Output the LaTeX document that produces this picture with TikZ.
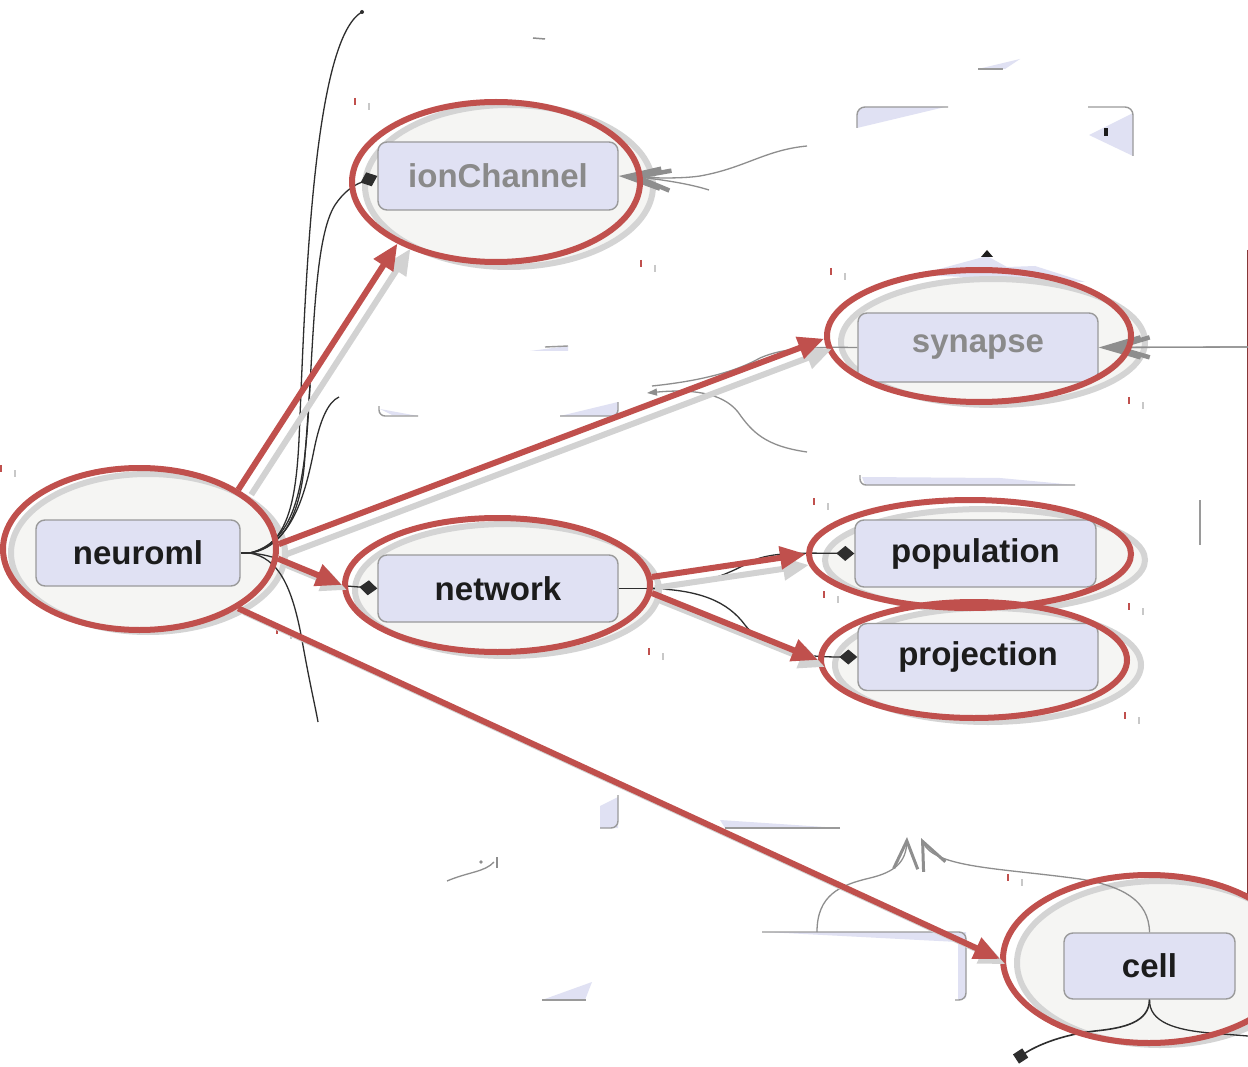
\documentclass[tikz,border=0pt]{standalone}
\usepackage{fontspec}
\setmainfont{Liberation Sans}
\usetikzlibrary{arrows.meta,shapes.geometric}

\definecolor{annot}{HTML}{C0504D}
\definecolor{dropgrey}{HTML}{D2D2D2}
\definecolor{bubble}{HTML}{F5F5F3}
\definecolor{ring}{HTML}{D4D4D4}
\definecolor{lav}{HTML}{E0E1F3}
\definecolor{boxline}{HTML}{9A9A9A}
\definecolor{ink}{HTML}{1C1C1C}
\definecolor{dim}{HTML}{8A8A8A}
\definecolor{wire}{HTML}{2E2E2E}
\definecolor{softwire}{HTML}{8E8E8E}
\definecolor{tickgrey}{HTML}{C8C8C8}

\begin{document}
\begin{tikzpicture}[x=1pt,y=-1pt,
  elem/.style={draw=boxline, line width=1.4pt, fill=lav, rounded corners=9pt,
    inner sep=0pt, font=\fontsize{33}{40}\selectfont\bfseries, text=ink},
  faded/.style={text=dim},
  ringed/.style={draw=ring, line width=6pt, fill=bubble},
  halo/.style={ellipse, draw=annot, line width=6pt, inner sep=0pt},
  callout/.style={draw=annot, line width=6pt, -{Triangle[length=26pt,width=22pt]}},
  callshadow/.style={draw=dropgrey, line width=6pt, -{Triangle[length=26pt,width=22pt]}},
  wirestyle/.style={draw=wire, line width=1.3pt},
  partof/.style={wirestyle, -{Diamond[length=18pt,width=15pt]}},
  softline/.style={draw=softwire, line width=1.3pt},
  openhead/.style={softline, -{Straight Barb[length=34pt,width=20pt,line width=4.5pt]}},
  uphead/.style={softline, -{Straight Barb[length=28pt,width=24pt,line width=3pt]}},
  edge/.style={draw=boxline, line width=1.4pt},
]
\fill[white] (0,0) rectangle (1248,1067);
\useasboundingbox (0,0) rectangle (1248,1067);

% ---- cut-away pieces of the surrounding elements ----
\fill[lav] (857,128) -- (857,112) -- (863,107) -- (945,107) -- cycle;
\draw[edge, rounded corners=8pt] (857,128) -- (857,107) -- (948,107);
\fill[lav] (1089,135) -- (1133,113) -- (1133,156) -- cycle;
\draw[edge, rounded corners=8pt] (1088,107) -- (1133,107) -- (1133,156);
\fill[ink] (1104,128) rectangle (1108,136);
\fill[lav] (978,69) -- (1020,59) -- (1005,69) -- cycle;
\draw[edge] (978,69) -- (1003,69);
\draw[softline, line width=1.5pt] (533,38) -- (545,39);
\fill[lav] (530,351) -- (568,346) -- (568,351) -- cycle;
\draw[edge] (545,347) -- (568,346);
\fill[lav] (380,409) -- (392,415) -- (418,416) -- cycle;
\draw[edge, rounded corners=6pt] (379,406) -- (379,416) -- (418,416);
\fill[lav] (560,416) -- (618,402) -- (618,416) -- cycle;
\draw[edge, rounded corners=6pt] (560,416) -- (618,416) -- (618,402);
\fill[lav] (917,275) -- (987,256) -- (1007,267) -- (1035,266) -- (1085,282) -- cycle;
\fill[ink] (981,257) -- (987,250) -- (993,257) -- cycle;
\fill[lav] (862,477) -- (1000,478) -- (1075,485) -- (865,485) -- cycle;
\draw[edge, rounded corners=6pt] (860,475) -- (860,485) -- (1075,485);
\draw[edge] (1200,500) -- (1200,545);
\fill[lav] (600,806) -- (618,797) -- (618,828) -- (600,828) -- cycle;
\draw[edge, rounded corners=7pt] (618,795) -- (618,828) -- (600,828);
\fill[lav] (720,820) -- (840,828) -- (725,828) -- cycle;
\draw[edge] (725,828) -- (840,828);
\draw[softline] (447,881) .. controls (468,872) and (485,872) .. (494,862);
\draw[softline, line width=2pt] (497,857) -- (497,868);
\fill[softwire] (481,862) circle (1.8pt);
\fill[lav] (542,1000) -- (592,982) -- (585,1000) -- cycle;
\draw[edge] (542,1000) -- (586,1000);
\fill[lav] (765,932) -- (966,932) -- (966,998) -- (958,1000) -- (958,942) -- cycle;
\draw[edge, rounded corners=7pt] (762,932) -- (966,932) -- (966,1000) -- (955,1000);
\draw[annot!70!black, line width=1pt] (1247,250) -- (1247,945);

% small tick pairs
\foreach \tx/\ty in {354/98, 640/260, 830/268, 1128/397, 813/498, 823/591,
                     1128/603, 1124/712, 0/465, 276/627, 648/648, 1007/874} {
  \draw[annot, line width=1.6pt] (\tx+1,\ty) -- ++(0,7);
  \draw[tickgrey, line width=1.4pt] (\tx+15,\ty+5) -- ++(0,7);
}

% ---- element bubbles ----
\foreach \cx/\cy/\rx/\ry in {148/553/137/79, 509/186/144/81, 507/590/152/66,
    993/342/152/63, 985/560/160/51, 988/665/153/57, 1160/963/143/82}
  \draw[ringed] (\cx,\cy) ellipse [x radius=\rx pt, y radius=\ry pt];

% ---- elements ----
\node[elem, minimum width=204pt, minimum height=66pt] (neuroml) at (138,553) {neuroml};
\node[elem, faded, minimum width=240pt, minimum height=68pt] (ionChannel) at (498,176) {ionChannel};
\node[elem, faded, minimum width=240pt, minimum height=69pt] (synapse) at (978,347.5) {synapse};
\node[elem, minimum width=240pt, minimum height=67pt] (network) at (498,588.5) {network};
\node[elem, minimum width=241pt, minimum height=67pt] (population) at (975.5,553.5) {population};
\node[elem, minimum width=240pt, minimum height=67pt] (projection) at (978,657) {projection};
\node[elem, minimum width=171pt, minimum height=66pt] (cell) at (1149.5,966) {cell};

% ---- free ends of the connectors ----
\coordinate (topEnd) at (362,12);
\coordinate (cutA) at (339,397);
\coordinate (cutB) at (310,385);
\coordinate (cutC) at (318,722);
\coordinate (rimS) at (1248,347);
\coordinate (farI) at (807,146);
\coordinate (farI2) at (709,190);
\coordinate (farS) at (652,386);
\coordinate (farS2) at (807,452);
\coordinate (boxTop) at (817,932);
\coordinate (cellLeft) at (1016,1059);
\coordinate (cellRight) at (1248,1036);

% ---- containment connectors ----
\path (neuroml.east) ++(9,0) coordinate (hub);
\draw[wirestyle] (neuroml.east) -- (hub);
\draw[wirestyle] (hub) .. controls (288,546) and (296,500) .. (299,440)
   .. controls (305,300) and (312,40) .. (topEnd);
\fill[wire] (topEnd) circle (2pt);
\draw[partof] (hub) .. controls (294,542) and (303,490) .. (308,420)
   .. controls (314,320) and (316,235) .. (335,205)
   .. controls (343,193) and (352,186) .. (ionChannel.west);
\draw[wirestyle] (hub) .. controls (292,545) and (305,495) .. (314,450)
   .. controls (320,420) and (328,402) .. (cutA);
\draw[wirestyle] (hub) .. controls (285,548) and (302,510) .. (305,455)
   .. controls (307,430) and (309,400) .. (cutB);
\draw[partof] (hub) .. controls (285,556) and (305,572) .. (322,584) -- (network.west);
\draw[wirestyle] (hub) .. controls (278,558) and (292,585) .. (302,640)
   .. controls (310,685) and (315,705) .. (cutC);

\path (network.east) ++(28,0) coordinate (nhub);
\draw[wirestyle] (network.east) -- (nhub);
\draw[partof] (nhub) .. controls (700,587) and (726,575) .. (752,561)
   .. controls (772,552) and (800,553) .. (population.west);
\draw[partof] (nhub) .. controls (700,589) and (728,602) .. (745,625)
   .. controls (765,650) and (795,657) .. (projection.west);

% ---- reference connectors ----
\draw[openhead] (farI) .. controls (765,150) and (745,168) .. (700,176)
   .. controls (680,179) and (650,178) .. (ionChannel.east);
\draw[openhead] (farI2) .. controls (690,184) and (665,180) .. ([xshift=10pt]ionChannel.east);
\draw[openhead] (rimS) -- (synapse.east);
\draw[openhead] (rimS) -- ([xshift=9pt]synapse.east);
\draw[softline] (farS) .. controls (700,381) and (735,372) .. (760,358)
   .. controls (785,347) and (815,347) .. (synapse.west);
\draw[softline, -{Triangle[length=10pt,width=7pt]}] (farS2) .. controls (765,446) and (752,432) .. (738,412)
   .. controls (722,392) and (690,389) .. (647,393);
\draw[uphead] (cell.north) .. controls (1149,900) and (1122,886) .. (1080,879)
   .. controls (1000,868) and (935,868) .. (921,838);
\draw[uphead] (boxTop) .. controls (817,895) and (840,885) .. (870,878)
   .. controls (895,872) and (906,862) .. (907,837);
\draw[wirestyle, line width=1.6pt, -{Square[length=11pt,width=11pt]}] (cell.south)
   .. controls (1149,1022) and (1125,1028) .. (1095,1031)
   .. controls (1060,1035) and (1036,1046) .. (cellLeft);
\draw[wirestyle] (cell.south) .. controls (1149,1022) and (1175,1030) .. (1210,1033) -- (cellRight);

% ---- highlight rings ----
\node[halo, minimum width=273pt, minimum height=162pt] (neuromlHalo) at (139.5,549) {};
\node[halo, minimum width=288pt, minimum height=160pt] (ionHalo) at (496,182) {};
\node[halo, minimum width=305pt, minimum height=134pt] (networkHalo) at (497.5,585) {};
\node[halo, minimum width=304pt, minimum height=132pt] (synapseHalo) at (979,336) {};
\node[halo, minimum width=322pt, minimum height=108pt] (populationHalo) at (970,554) {};
\node[halo, minimum width=306pt, minimum height=116pt] (projectionHalo) at (974,660) {};
\node[halo, minimum width=292pt, minimum height=168pt] (cellHalo) at (1149,959) {};

% ---- highlight arrows with their drop shadows ----
\draw[callshadow] ([shift={(13,5)}]neuromlHalo.31) -- ([shift={(13,5)}]ionHalo.212);
\draw[callshadow] ([shift={(8,10)}]neuromlHalo.2) -- ([shift={(8,10)}]synapseHalo.181);
\draw[callshadow] ([shift={(5,5)}]neuromlHalo.-4) -- ([shift={(5,5)}]networkHalo.180);
\draw[callshadow, line width=3pt] ([shift={(5,5)}]neuromlHalo.-31) -- ([shift={(5,5)}]cellHalo.180);
\draw[callshadow] ([shift={(3,11)}]networkHalo.3) -- ([shift={(3,11)}]populationHalo.180);
\draw[callshadow] ([shift={(7,7)}]networkHalo.-3) -- ([shift={(7,7)}]projectionHalo.180);

\draw[callout] (neuromlHalo.31) -- (ionHalo.212);
\draw[callout] (neuromlHalo.2) -- (synapseHalo.181);
\draw[callout] (neuromlHalo.-4) -- (networkHalo.180);
\draw[callout] (neuromlHalo.-31) -- (cellHalo.180);
\draw[callout] (networkHalo.3) -- (populationHalo.180);
\draw[callout] (networkHalo.-3) -- (projectionHalo.180);
\end{tikzpicture}
\end{document}
